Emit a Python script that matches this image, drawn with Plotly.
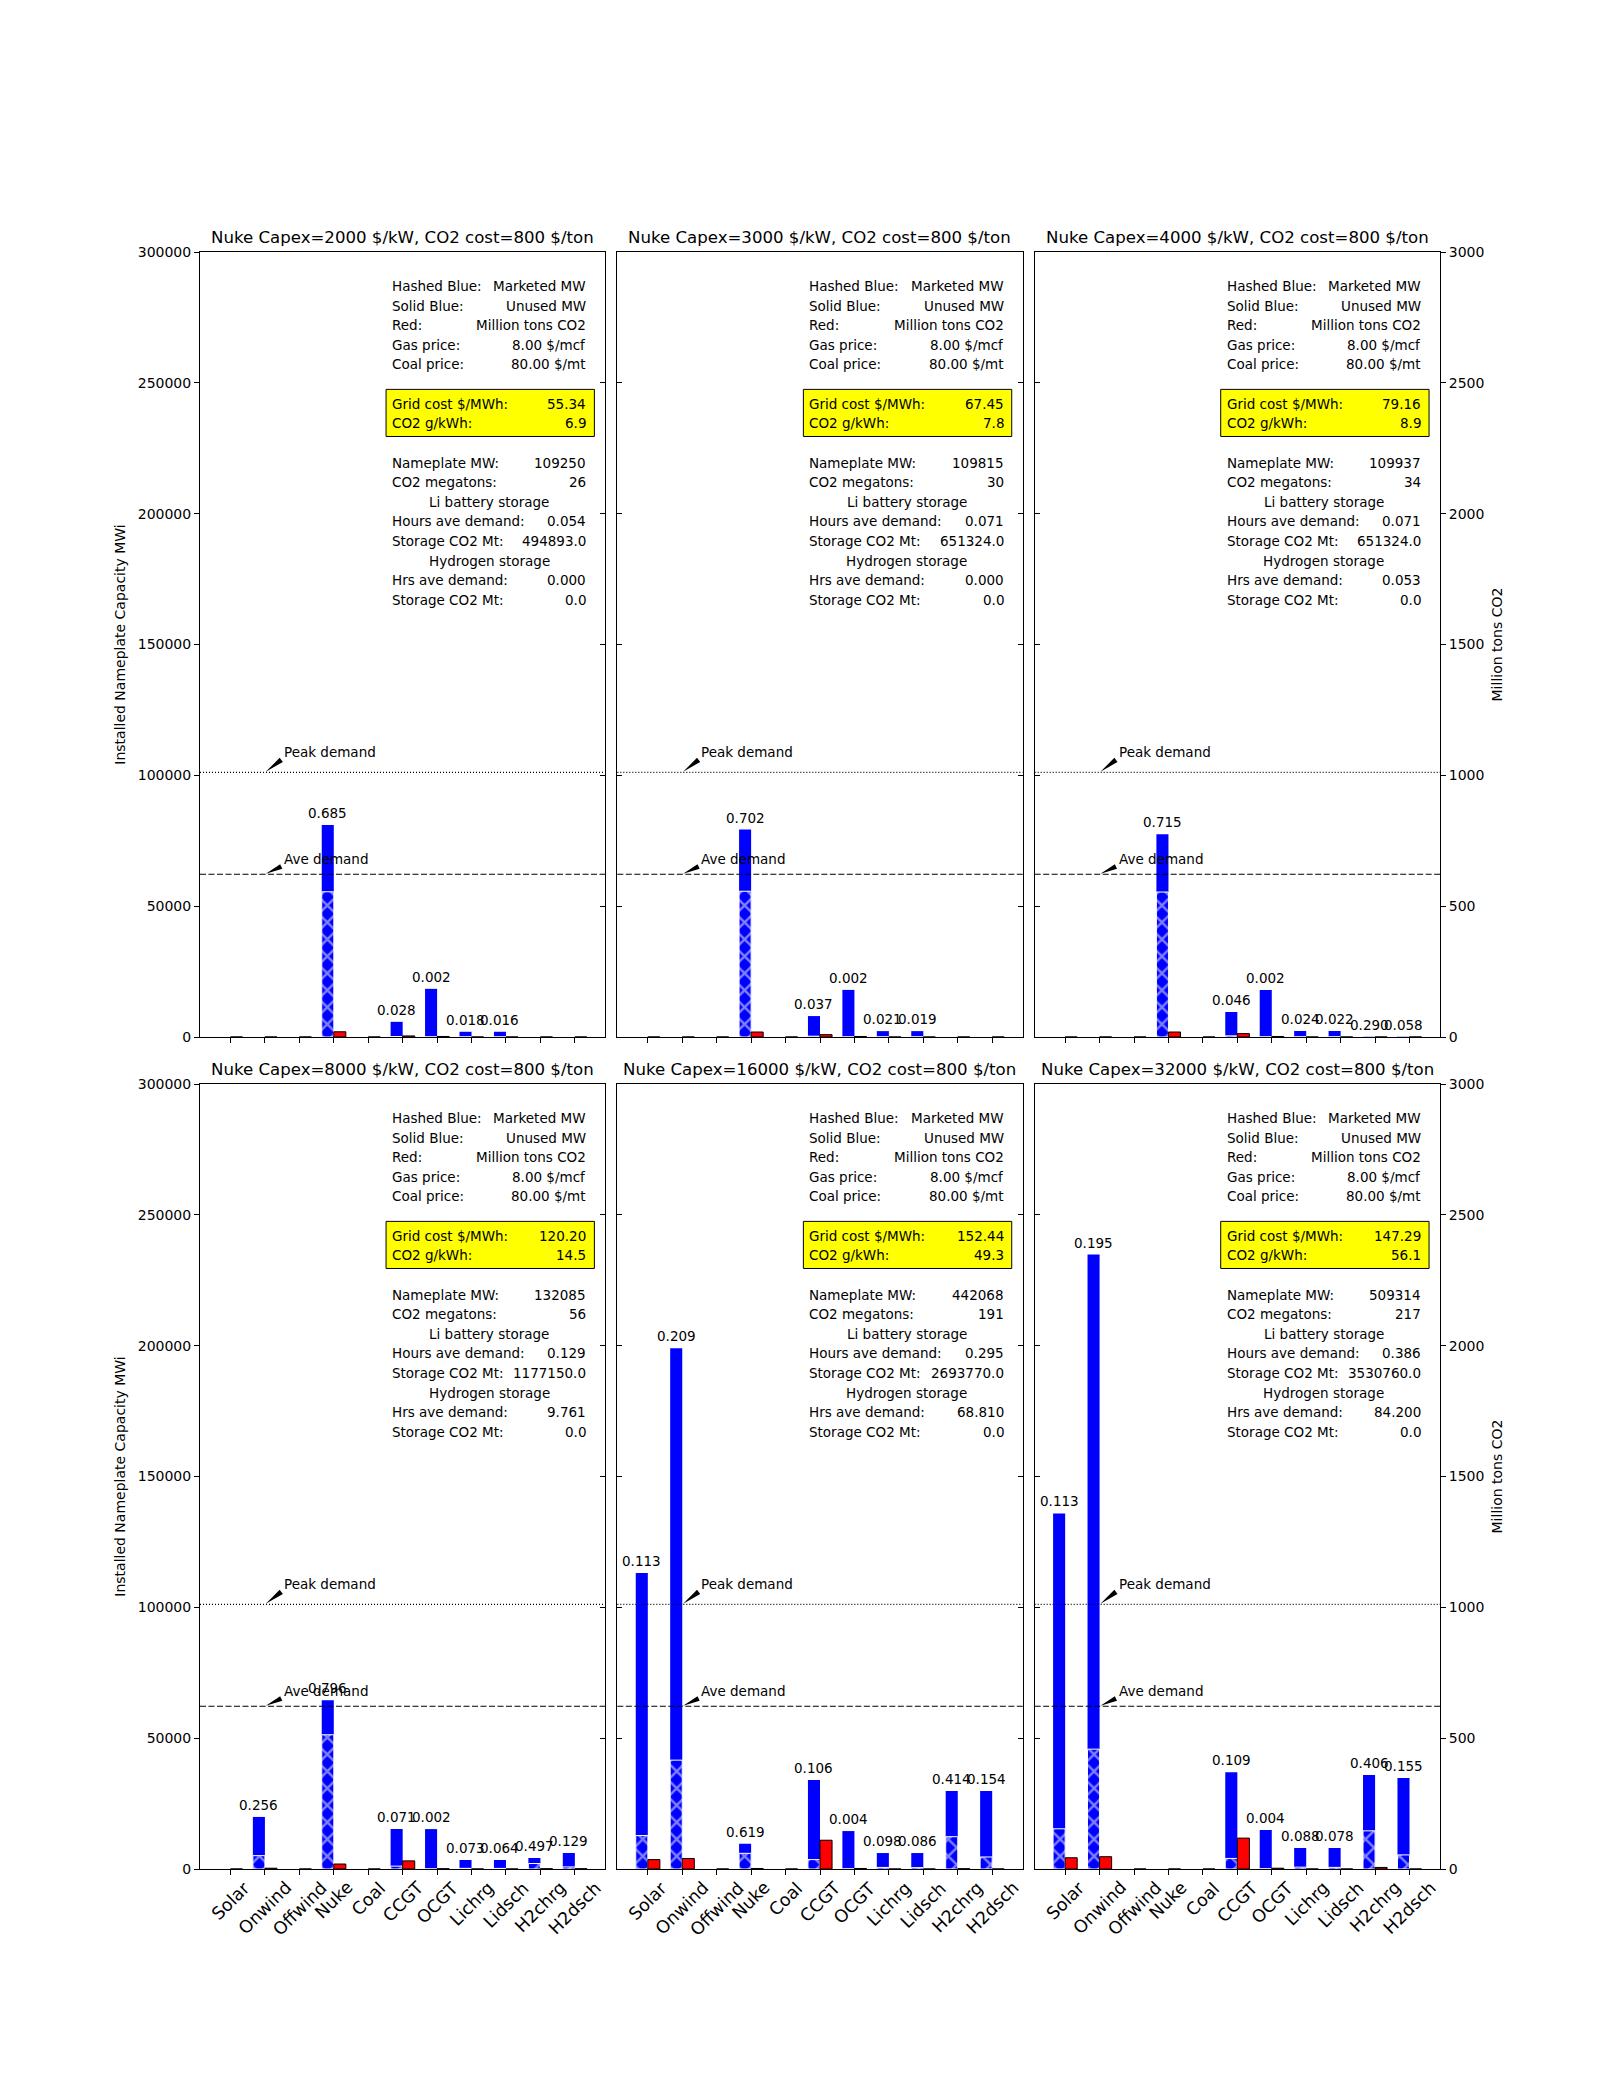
import plotly.graph_objects as go

# ---------------- data ----------------
CATEGORIES = ["Solar", "Onwind", "Offwind", "Nuke", "Coal", "CCGT", "OCGT",
              "Lichrg", "Lidsch", "H2chrg", "H2dsch"]
NUKE_CAPEX = [2000, 3000, 4000, 8000, 16000, 32000]
CO2_COST = 800
GAS_PRICE = 8.00
COAL_PRICE = 80.00

TOTAL_MW_2000 = [0, 0, 0, 81000, 0, 5800, 18400, 2000, 2000, 0, 0]
MARKETED_MW_2000 = [0, 0, 0, 55500, 0, 160, 40, 36, 32, 0, 0]
CF_LABELS_2000 = ["", "", "", "0.685", "", "0.028", "0.002", "0.018", "0.016", "", ""]
CO2_MT_2000 = [0, 0, 0, 20, 0, 4, 2, 0, 0, 0, 0]

TOTAL_MW_3000 = [0, 0, 0, 79300, 0, 8000, 18000, 2250, 2250, 0, 0]
MARKETED_MW_3000 = [0, 0, 0, 55700, 0, 300, 36, 47, 43, 0, 0]
CF_LABELS_3000 = ["", "", "", "0.702", "", "0.037", "0.002", "0.021", "0.019", "", ""]
CO2_MT_3000 = [0, 0, 0, 19, 0, 9, 2, 0, 0, 0, 0]

TOTAL_MW_4000 = [0, 0, 0, 77500, 0, 9600, 18000, 2300, 2300, 120, 120]
MARKETED_MW_4000 = [0, 0, 0, 55400, 0, 440, 36, 55, 50, 35, 7]
CF_LABELS_4000 = ["", "", "", "0.715", "", "0.046", "0.002", "0.024", "0.022", "0.290", "0.058"]
CO2_MT_4000 = [0, 0, 0, 19, 0, 13, 2, 0, 0, 0, 0]

TOTAL_MW_8000 = [0, 19900, 0, 64500, 0, 15300, 15250, 3440, 3440, 4200, 6100]
MARKETED_MW_8000 = [0, 5100, 0, 51300, 0, 1090, 30, 250, 220, 2090, 790]
CF_LABELS_8000 = ["", "0.256", "", "0.796", "", "0.071", "0.002", "0.073", "0.064", "0.497", "0.129"]
CO2_MT_8000 = [0, 3, 0, 19, 0, 31, 1, 0, 0, 1, 1]

TOTAL_MW_16000 = [113100, 199000, 0, 9680, 0, 34000, 14500, 6100, 6100, 29800, 29800]
MARKETED_MW_16000 = [12780, 41600, 0, 5990, 0, 3600, 58, 600, 525, 12340, 4590]
CF_LABELS_16000 = ["0.113", "0.209", "", "0.619", "", "0.106", "0.004", "0.098", "0.086", "0.414", "0.154"]
CO2_MT_16000 = [36, 40, 0, 2, 0, 110, 2, 0, 0, 1, 0]

TOTAL_MW_32000 = [135900, 234800, 0, 0, 0, 37000, 14900, 8000, 8000, 35900, 34800]
MARKETED_MW_32000 = [15360, 45800, 0, 0, 0, 4030, 60, 700, 620, 14580, 5390]
CF_LABELS_32000 = ["0.113", "0.195", "", "", "", "0.109", "0.004", "0.088", "0.078", "0.406", "0.155"]
CO2_MT_32000 = [43, 47, 0, 0, 0, 118, 3, 0, 0, 6, 0]

TOTAL_MW = [TOTAL_MW_2000, TOTAL_MW_3000, TOTAL_MW_4000,
            TOTAL_MW_8000, TOTAL_MW_16000, TOTAL_MW_32000]
MARKETED_MW = [MARKETED_MW_2000, MARKETED_MW_3000, MARKETED_MW_4000,
               MARKETED_MW_8000, MARKETED_MW_16000, MARKETED_MW_32000]
CF_LABELS = [CF_LABELS_2000, CF_LABELS_3000, CF_LABELS_4000,
             CF_LABELS_8000, CF_LABELS_16000, CF_LABELS_32000]
CO2_MT = [CO2_MT_2000, CO2_MT_3000, CO2_MT_4000,
          CO2_MT_8000, CO2_MT_16000, CO2_MT_32000]

GRID_COST = [55.34, 67.45, 79.16, 120.20, 152.44, 147.29]
CO2_G_KWH = [6.9, 7.8, 8.9, 14.5, 49.3, 56.1]
NAMEPLATE_MW = [109250, 109815, 109937, 132085, 442068, 509314]
CO2_MEGATONS = [26, 30, 34, 56, 191, 217]
LI_HOURS = [0.054, 0.071, 0.071, 0.129, 0.295, 0.386]
LI_STORAGE_CO2 = [494893.0, 651324.0, 651324.0, 1177150.0, 2693770.0, 3530760.0]
H2_HOURS = [0.000, 0.000, 0.053, 9.761, 68.810, 84.200]
H2_STORAGE_CO2 = [0.0, 0.0, 0.0, 0.0, 0.0, 0.0]

PEAK_DEMAND = 101100
AVE_DEMAND = 62200

Y_TICKS = [0, 50000, 100000, 150000, 200000, 250000, 300000]
Y2_TICKS = [0, 500, 1000, 1500, 2000, 2500, 3000]

# ---------------- geometry / style ----------------
W, H = 1600, 2100
ML, MR, MT, MB = 200, 160, 252, 231
PW, PH = W - ML - MR, H - MT - MB
GAP_X, GAP_Y = 12, 47
AXW = (PW - 2 * GAP_X) / 3
AXH = (PH - GAP_Y) / 2

BAR_W = 0.35
POS = list(range(len(CATEGORIES)))
lo, hi = POS[0] - BAR_W, POS[-1] + BAR_W
XR = [lo - 0.05 * (hi - lo), hi + 0.05 * (hi - lo)]
X_PX = AXW / (XR[1] - XR[0])
Y_PX = AXH / Y_TICKS[-1]

BLUE, RED = "#0000ff", "#ff0000"
FONT = "DejaVu Sans"
TXT = 13.5

TEXT_LEFT, TEXT_RIGHT, TEXT_CENTER = 0.469, 0.958, 0.7135
LINE_TOP, LINE_STEP = 0.9567, 0.0250
BOX = dict(x0=0.459, x1=0.973, y0=0.765, y1=0.825)

fig = go.Figure()
annotations = []
shapes = []
layout_axes = {}

for p in range(6):
    r, c = divmod(p, 3)
    xid = "" if p == 0 else str(p + 1)
    y1id = "" if p == 0 else str(2 * p + 1)
    y2id = str(2 * p + 2)
    xr, y1r, y2r = "x" + xid, "y" + y1id, "y" + y2id

    x0 = c * (AXW + GAP_X) / PW
    xd = [x0, x0 + AXW / PW]
    ytop = 1 - r * (AXH + GAP_Y) / PH
    yd = [ytop - AXH / PH, ytop]

    axis_common = dict(showline=True, linecolor="black", linewidth=1, showgrid=False,
                       zeroline=False, tickcolor="black", ticklen=5, tickwidth=1,
                       tickfont=dict(family=FONT, size=14, color="black"))

    layout_axes["xaxis" + xid] = dict(
        axis_common, domain=xd, anchor=y1r, range=XR, tickmode="array",
        tickvals=POS, showticklabels=False, ticks="outside", mirror=True)
    layout_axes["yaxis" + y1id] = dict(
        axis_common, domain=yd, anchor=xr, range=[0, Y_TICKS[-1]], tickmode="array",
        tickvals=Y_TICKS, ticktext=[str(v) for v in Y_TICKS],
        showticklabels=(c == 0), ticks="outside" if c == 0 else "inside",
        title=dict(text="Installed Nameplate Capacity MWi" if c == 0 else "",
                   font=dict(family=FONT, size=14, color="black"), standoff=8))
    layout_axes["yaxis" + y2id] = dict(
        axis_common, overlaying=y1r, side="right", anchor=xr, range=[0, Y2_TICKS[-1]],
        tickmode="array", tickvals=Y2_TICKS, ticktext=[str(v) for v in Y2_TICKS],
        showticklabels=(c == 2), ticks="outside" if c == 2 else "inside",
        title=dict(text="Million tons CO2" if c == 2 else "",
                   font=dict(family=FONT, size=14, color="black"), standoff=8))

    # bars
    fig.add_trace(go.Bar(x=POS, y=TOTAL_MW[p], offset=-BAR_W, width=BAR_W,
                         marker=dict(color=BLUE, line=dict(width=0)),
                         xaxis=xr, yaxis=y1r, hoverinfo="skip"))
    fig.add_trace(go.Bar(x=POS, y=MARKETED_MW[p], offset=-BAR_W, width=BAR_W,
                         marker=dict(color=BLUE, line=dict(color="white", width=1),
                                     pattern=dict(shape="x", fgcolor="white", bgcolor=BLUE,
                                                  size=12, solidity=0.35)),
                         xaxis=xr, yaxis=y1r, hoverinfo="skip"))
    fig.add_trace(go.Bar(x=POS, y=CO2_MT[p], offset=0, width=BAR_W,
                         marker=dict(color=RED, line=dict(color="black", width=1)),
                         xaxis=xr, yaxis=y2r, hoverinfo="skip"))

    # value labels above blue bars
    for i, lab in enumerate(CF_LABELS[p]):
        if lab:
            annotations.append(dict(x=POS[i] - BAR_W / 2, y=TOTAL_MW[p][i], xref=xr, yref=y1r,
                                    text=lab, showarrow=False, xanchor="center",
                                    yanchor="bottom", yshift=2,
                                    font=dict(family=FONT, size=TXT, color="black")))

    # panel title
    annotations.append(dict(x=0.5, y=1, xref=xr + " domain", yref=y1r + " domain",
                            text=f"Nuke Capex={NUKE_CAPEX[p]} $/kW, CO2 cost={CO2_COST} $/ton",
                            showarrow=False, xanchor="center", yanchor="bottom", yshift=3,
                            font=dict(family=FONT, size=16.6, color="black")))

    # demand lines + annotations
    for level, dash, name in [(PEAK_DEMAND, "1px,2px", "Peak demand"),
                              (AVE_DEMAND, "6px,2.5px", "Ave demand")]:
        shapes.append(dict(type="line", xref=xr + " domain", yref=y1r, x0=0, x1=1,
                           y0=level, y1=level, line=dict(color="black", width=1.2, dash=dash)))
        tip_x, tip_y = 1.0, level
        tail_x, tail_y = 1.5, level * 1.05
        annotations.append(dict(x=tail_x, y=tail_y, xref=xr, yref=y1r, text=name,
                                showarrow=False, xanchor="left", yanchor="bottom", yshift=-3,
                                font=dict(family=FONT, size=TXT, color="black")))
        # wedge arrow (matplotlib-like), shrunk 5 % at both ends
        sx = tip_x + 0.05 * (tail_x - tip_x)
        sy = tip_y + 0.05 * (tail_y - tip_y)
        ex = tail_x - 0.05 * (tail_x - tip_x)
        ey = tail_y - 0.05 * (tail_y - tip_y)
        dxp, dyp = (ex - sx) * X_PX, (ey - sy) * Y_PX
        L = (dxp ** 2 + dyp ** 2) ** 0.5
        hw = 2.6
        ox, oy = -dyp / L * hw / X_PX, dxp / L * hw / Y_PX
        path = (f"M {sx},{sy} L {ex + ox},{ey + oy} L {ex - ox},{ey - oy} Z")
        shapes.append(dict(type="path", xref=xr, yref=y1r, path=path,
                           fillcolor="black", line=dict(width=0)))

    # yellow box
    shapes.append(dict(type="rect", xref=xr + " domain", yref=y1r + " domain",
                       line=dict(color="black", width=1), fillcolor="#ffff00", **BOX))

    info = [
        (0, "Hashed Blue:", "Marketed MW"),
        (1, "Solid Blue:", "Unused MW"),
        (2, "Red:", "Million tons CO2"),
        (3, "Gas price:", f"{GAS_PRICE:.2f} $/mcf"),
        (4, "Coal price:", f"{COAL_PRICE:.2f} $/mt"),
        (6, "Grid cost $/MWh:", f"{GRID_COST[p]:.2f}"),
        (7, "CO2 g/kWh:", f"{CO2_G_KWH[p]:.1f}"),
        (9, "Nameplate MW:", f"{NAMEPLATE_MW[p]:d}"),
        (10, "CO2 megatons:", f"{CO2_MEGATONS[p]:d}"),
        (11, None, "Li battery storage"),
        (12, "Hours ave demand:", f"{LI_HOURS[p]:.3f}"),
        (13, "Storage CO2 Mt:", f"{LI_STORAGE_CO2[p]:.1f}"),
        (14, None, "Hydrogen storage"),
        (15, "Hrs ave demand:", f"{H2_HOURS[p]:.3f}"),
        (16, "Storage CO2 Mt:", f"{H2_STORAGE_CO2[p]:.1f}"),
    ]
    for k, left, right in info:
        yy = LINE_TOP - LINE_STEP * k
        f = dict(family=FONT, size=TXT, color="black")
        if left is None:
            annotations.append(dict(x=TEXT_CENTER, y=yy, xref=xr + " domain",
                                    yref=y1r + " domain", text=right, showarrow=False,
                                    xanchor="center", yanchor="middle", font=f))
        else:
            annotations.append(dict(x=TEXT_LEFT, y=yy, xref=xr + " domain",
                                    yref=y1r + " domain", text=left, showarrow=False,
                                    xanchor="left", yanchor="middle", font=f))
            annotations.append(dict(x=TEXT_RIGHT, y=yy, xref=xr + " domain",
                                    yref=y1r + " domain", text=right, showarrow=False,
                                    xanchor="right", yanchor="middle", font=f))

    # rotated category labels on bottom row
    if r == 1:
        for i, cat in enumerate(CATEGORIES):
            annotations.append(dict(x=POS[i], y=0, xref=xr, yref=y1r + " domain",
                                    text=cat, showarrow=False, textangle=-45,
                                    xanchor="center", yanchor="top", yshift=-6,
                                    font=dict(family=FONT, size=17.5, color="black")))

fig.update_layout(
    width=W, height=H, margin=dict(l=ML, r=MR, t=MT, b=MB, autoexpand=False),
    paper_bgcolor="white", plot_bgcolor="white", showlegend=False,
    barmode="overlay", hovermode=False,
    font=dict(family=FONT, size=14, color="black"),
    annotations=annotations, shapes=shapes, **layout_axes)

fig.write_html("out.html", config={"displayModeBar": False},
               post_script="document.body.style.margin='0px';document.body.style.padding='0px';")
